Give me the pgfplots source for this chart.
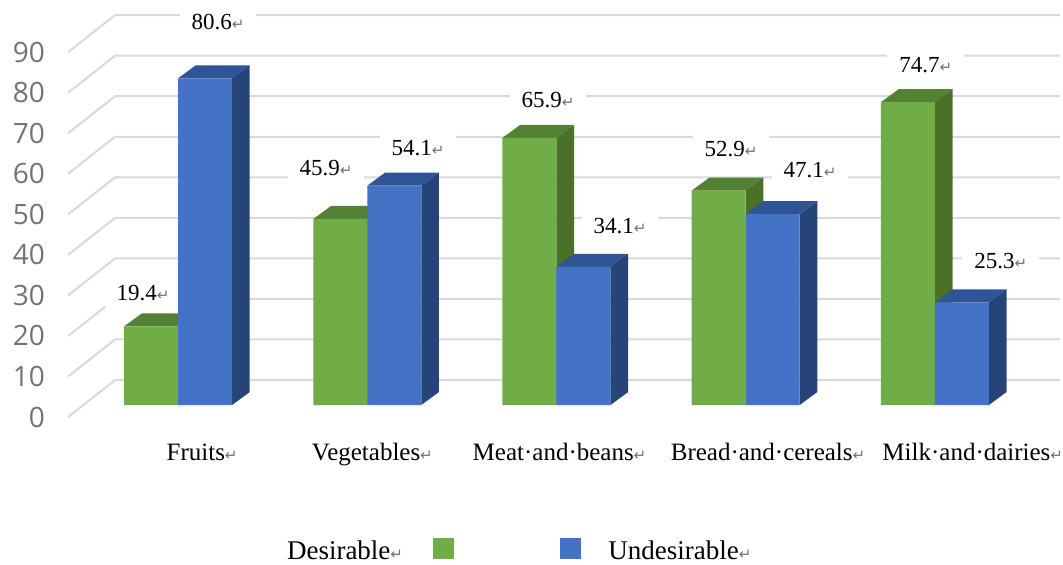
\documentclass[border=0pt]{standalone}
\usepackage{fontspec}
\usepackage{pgfplots}
\usepackage{pgfplotstable}
\pgfplotsset{compat=1.18}
\setmainfont{Liberation Serif}
\newfontfamily\tickfont{Open Sans}
\newfontfamily\symfont{DejaVu Sans}

\definecolor{greenfront}{HTML}{70AD47}
\definecolor{greentop}{HTML}{548235}
\definecolor{greenside}{HTML}{4A7127}
\definecolor{bluefront}{HTML}{4472C4}
\definecolor{bluetop}{HTML}{2F5597}
\definecolor{blueside}{HTML}{264478}
\definecolor{gridgray}{HTML}{D9D9D9}

\pgfplotstableread{
c des und
0 19.4 80.6
1 45.9 54.1
2 65.9 34.1
3 52.9 47.1
4 74.7 25.3
}\foodtable

% Return mark left by the word processor
\newcommand\ret{{\symfont\color{black!55}\fontsize{15}{15}\selectfont ↵}}

% Top and side faces of a bar: left edge, value, top colour, side colour
\newcommand\faces[4]{%
  \pgfmathsetmacro\xl{#1}%
  \pgfmathsetmacro\xr{#1+0.2853}%
  \pgfmathsetmacro\xbl{#1+0.0935}%
  \pgfmathsetmacro\xbr{#1+0.2853+0.0935}%
  \pgfmathsetmacro\vb{#2+3.2}%
  \addplot[fill=#3,draw=none] coordinates {(\xl,#2) (\xr,#2) (\xbr,\vb) (\xbl,\vb)} -- cycle;
  \addplot[fill=#4,draw=none] coordinates {(\xr,0) (\xbr,3.2) (\xbr,\vb) (\xr,#2)} -- cycle;
}

% Text placed by picture position
\newcommand\lab[3]{\node[font=\fontsize{23}{23}\selectfont,fill=white,inner xsep=12pt,inner ysep=6pt]
  at (axis cs:{(#1-178)/189.25},{(405-#2)/4.055}) {#3};}
\newcommand\txt[3]{\node[font=\fontsize{27}{27}\selectfont,inner sep=0pt]
  at (axis cs:{(#1-178)/189.25},{(405-#2)/4.055}) {#3};}

\begin{document}
\begin{tikzpicture}
\begin{axis}[
  scale only axis,
  width=1063pt, height=564pt,
  xmin=-0.9406, xmax=4.6764,
  ymin=-39.21, ymax=99.88,
  clip=false,
  axis line style={draw=none},
  major tick length=0pt,
  ytick={0,10,...,90},
  /pgf/number format/assume math mode=true,
  yticklabel style={font=\tickfont\fontsize{28}{28}\selectfont,text=black!55,anchor=east,xshift=45pt,yshift=-12pt,inner sep=0pt},
  xtick={0.127,1.027,2.016,3.118,4.2},
  xticklabels={Fruits\ret,Vegetables\ret,Meat·and·beans\ret,Bread·and·cereals\ret,Milk·and·dairies\ret},
  xticklabel style={font=\fontsize{25}{25}\selectfont,anchor=center,yshift=109pt,inner sep=0pt,text height=17pt,text depth=6pt},
]
% back wall and floor lines
\pgfplotsinvokeforeach{0,10,...,90}{
  \pgfmathsetmacro\vf{#1-2.96}
  \pgfmathsetmacro\vw{#1+6.165}
  \addplot[gridgray,line width=2pt] coordinates {(-0.581,\vf) (-0.333,\vw) (4.66,\vw)};
}
\lab{218}{22}{80.6\ret}
\lab{143}{293}{19.4\ret}
\lab{326}{168}{45.9\ret}
\lab{418}{148}{54.1\ret}
\lab{548}{100}{65.9\ret}
\lab{620}{226}{34.1\ret}
\lab{731}{149}{52.9\ret}
\lab{810}{170}{47.1\ret}
\lab{926}{65}{74.7\ret}
\lab{1001}{261}{25.3\ret}
% green bars
\faces{-0.2853}{19.4}{greentop}{greenside}
\faces{0.7147}{45.9}{greentop}{greenside}
\faces{1.7147}{65.9}{greentop}{greenside}
\faces{2.7147}{52.9}{greentop}{greenside}
\faces{3.7147}{74.7}{greentop}{greenside}
\addplot[ybar,bar width=54pt,bar shift=-27pt,fill=greenfront,draw=none] table[x=c,y=des] {\foodtable};
% blue bars
\faces{0}{80.6}{bluetop}{blueside}
\faces{1}{54.1}{bluetop}{blueside}
\faces{2}{34.1}{bluetop}{blueside}
\faces{3}{47.1}{bluetop}{blueside}
\faces{4}{25.3}{bluetop}{blueside}
\addplot[ybar,bar width=54pt,bar shift=27pt,fill=bluefront,draw=none] table[x=c,y=und] {\foodtable};
% legend
\addplot[only marks,mark=square*,mark size=10pt,greenfront] coordinates {(1.400,-35.39)};
\addplot[only marks,mark=square*,mark size=10pt,bluefront] coordinates {(2.071,-35.39)};
\txt{345}{550}{Desirable\ret}
\txt{680}{550}{Undesirable\ret}
\end{axis}
\end{tikzpicture}
\end{document}
